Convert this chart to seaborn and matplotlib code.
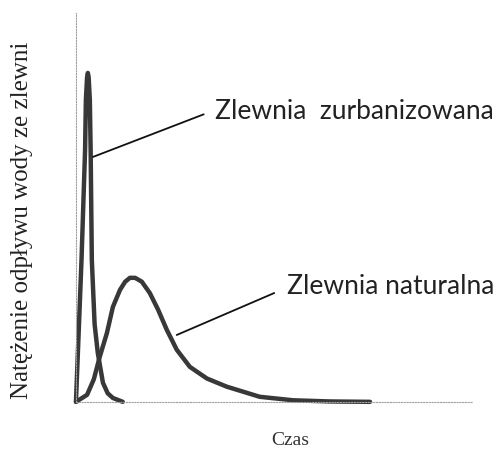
import matplotlib
matplotlib.use("Agg")
import matplotlib.pyplot as plt
import seaborn as sns
import pandas as pd

# Data (arbitrary units)
urban_t = [0, 1.4, 2.3, 2.5, 2.8, 3.0, 3.2, 3.5, 3.7, 4.0, 4.7, 5.5, 6.8, 8.0, 9.3, 11.8]
urban_q = [0, 36.5, 64.8, 77.6, 83.5, 84.6, 83.5, 77.6, 64.8, 36.5, 20.0, 12.6, 4.9, 2.2, 1.0, 0.0]

natural_t = [0, 2.8, 4.5, 6.0, 7.8, 9.3, 11.1, 12.4, 13.6, 14.9, 16.6, 18.6, 20.7, 22.9,
             25.4, 28.7, 33.0, 38.0, 46.3, 54.7, 64.0, 74.1]
natural_q = [0, 1.8, 5.8, 11.6, 17.7, 24.4, 28.8, 30.9, 31.9, 31.9, 30.9, 28.0, 23.7, 18.5,
             13.4, 9.0, 6.0, 3.9, 1.3, 0.4, 0.1, 0.0]

label_urban = "Zlewnia  zurbanizowana"
label_natural = "Zlewnia naturalna"
xlabel = "Czas"
ylabel = "Natężenie odpływu wody ze zlewni"

df = pd.concat([
    pd.DataFrame({"t": urban_t, "q": urban_q, "s": label_urban}),
    pd.DataFrame({"t": natural_t, "q": natural_q, "s": label_natural}),
])

sns.set_style("white")
fig = plt.figure(figsize=(5.03, 4.51), dpi=100)
ax = fig.add_axes([0.151, 0.109, 0.789, 0.862])

sns.lineplot(data=df, x="t", y="q", hue="s", palette=["#383838", "#383838"],
             linewidth=3.2, sort=False, estimator=None, legend=False, ax=ax)
for l in ax.lines:
    l.set_solid_capstyle("round")
    l.set_solid_joinstyle("round")
    l.set_clip_on(False)

ax.set_xlim(0, 100)
ax.set_ylim(0, 100)
ax.set_xticks([])
ax.set_yticks([])
for side in ["top", "right"]:
    ax.spines[side].set_visible(False)
for side in ["left", "bottom"]:
    ax.spines[side].set_linestyle((0, (1, 1.5)))
    ax.spines[side].set_color("#a0a0a0")
    ax.spines[side].set_linewidth(0.8)

ax.set_xlabel(xlabel, family="Liberation Serif", fontsize=14, color="#333333")
ax.xaxis.set_label_coords(0.54, -0.078)
ax.set_ylabel(ylabel, family="Liberation Serif", fontsize=18, color="#222222")
ax.yaxis.set_label_coords(-0.108, 0.468)

ax.annotate(label_urban, xy=(4.3, 63.0), xytext=(35.0, 74.6), xycoords="data",
            ha="left", va="center", family="Lato", fontsize=19, color="#222222",
            annotation_clip=False,
            arrowprops=dict(arrowstyle="-", color="#111111", lw=1.3,
                            shrinkA=0, shrinkB=0, relpos=(-0.04, 0.4)))
ax.annotate(label_natural, xy=(25.4, 17.2), xytext=(53.1, 29.6), xycoords="data",
            ha="left", va="center", family="Lato", fontsize=19, color="#222222",
            annotation_clip=False,
            arrowprops=dict(arrowstyle="-", color="#111111", lw=1.3,
                            shrinkA=0, shrinkB=0, relpos=(-0.06, 0.25)))

fig.savefig("out.png", dpi=100)
